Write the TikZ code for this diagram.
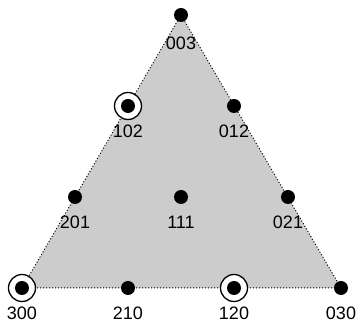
\documentclass[tikz,border=0pt]{standalone}
\usepackage{fontspec}
\setmainfont{Liberation Sans}
\begin{document}
\begin{tikzpicture}[x=1pt,y=-1pt,
  pt/.style={circle,fill=black,inner sep=0pt,minimum size=14pt},
  ring/.style={circle,draw=black,line width=1.3pt,fill=white,inner sep=0pt,minimum size=27pt},
  lbl/.style={font=\fontsize{18}{18}\selectfont,inner sep=0pt}]
\useasboundingbox (0,0) rectangle (357,328);
\coordinate (A) at (22,288);
\coordinate (B) at (341,288);
\coordinate (C) at (181,15);
\fill[black!20] (A) -- (B) -- (C) -- cycle;
\draw[dotted,line width=1pt] (A) -- (B) -- (C) -- cycle;
\node[ring] (r300) at (22,288) {};
\node[ring] (r102) at (128,106) {};
\node[ring] (r120) at (234,288) {};
\node[pt] (n300) at (22,288) {};
\node[pt] (n210) at (128,288) {};
\node[pt] (n120) at (234,288) {};
\node[pt] (n030) at (341,288) {};
\node[pt] (n201) at (75,197) {};
\node[pt] (n111) at (181,197) {};
\node[pt] (n021) at (288,197) {};
\node[pt] (n102) at (128,106) {};
\node[pt] (n012) at (234,106) {};
\node[pt] (n003) at (181,15) {};
\node[lbl] (l300) at (22,313) {300};
\node[lbl] (l210) at (128,313) {210};
\node[lbl] (l120) at (234,313) {120};
\node[lbl] (l030) at (341,313) {030};
\node[lbl] (l201) at (75,222) {201};
\node[lbl] (l111) at (181,222) {111};
\node[lbl] (l021) at (288,222) {021};
\node[lbl] (l102) at (128,131) {102};
\node[lbl] (l012) at (234,131) {012};
\node[lbl] (l003) at (181,43) {003};
\end{tikzpicture}
\end{document}
